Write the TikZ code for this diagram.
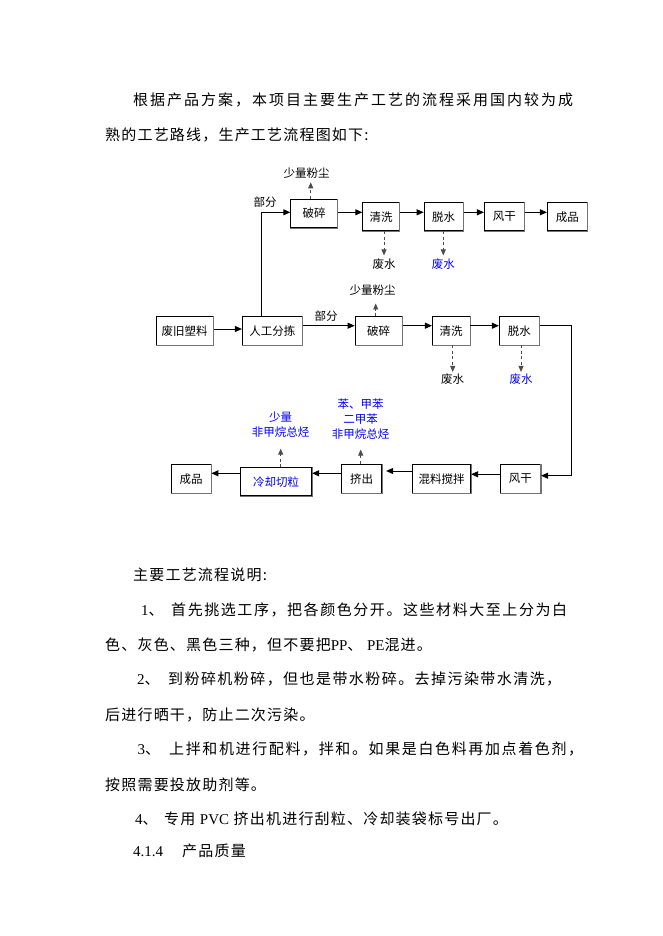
\documentclass[tikz,border=0pt]{standalone}
\usepackage{fontspec}
\usetikzlibrary{arrows.meta,calc}
\newfontfamily\cjk[LetterSpace=8]{Noto Sans CJK SC}
\newfontfamily\dgf{Noto Sans CJK SC}
\newfontfamily\lat{Liberation Serif}
\definecolor{eblue}{RGB}{0,0,255}
\def\spreadch#1{\ifx#1\relax\else#1\hskip0pt plus 6pt\expandafter\spreadch\fi}
\newcommand\jline[2]{\hbox to #1{\spreadch#2\relax\unskip}}
\begin{document}
\begin{tikzpicture}[x=1pt,y=-1pt,
 box/.style={draw=black, line width=0.8pt, inner sep=0pt, fill=white, font=\dgf\fontsize{11.5}{15}\selectfont},
 lab/.style={inner sep=0pt, align=center, font=\dgf\fontsize{11.5}{15.3}\selectfont},
 bt/.style={inner sep=0pt, anchor=base west, font=\cjk\fontsize{15}{18}\selectfont},
 arr/.style={line width=0.9pt, -{Triangle[length=7pt,width=6pt]}},
 dsh/.style={line width=0.9pt, draw=black!70, dash pattern=on 3pt off 2.5pt, -{Triangle[length=6pt,width=5pt]}},
 shadeline/.style={draw=black!55, line width=1.2pt}]
\fill[white] (0,0) rectangle (662,936);
\useasboundingbox (0,0) rectangle (662,936);

% ---------- body text ----------
\node[bt] (l1) at (133,105.5) {\jline{440pt}{根据产品方案，本项目主要生产工艺的流程采用国内较为成}};
\node[bt] (l2) at (105,140.5) {熟的工艺路线，生产工艺流程图如下:};
\node[bt] (l3) at (133,580.5) {主要工艺流程说明:};
\node[bt] (n1) at (141,615.5) {{\lat 1}、};
\node[bt] (l4) at (171,615.5) {\jline{396pt}{首先挑选工序，把各颜色分开。这些材料大至上分为白}};
\node[bt] (l5) at (105,650.5) {色、灰色、黑色三种，但不要把{\lat PP}、 {\lat PE}混进。};
\node[bt] (n2) at (137,684) {{\lat 2}、};
\node[bt] (l6) at (168,684) {\jline{393pt}{到粉碎机粉碎，但也是带水粉碎。去掉污染带水清洗，}};
\node[bt] (l7) at (105,720.5) {后进行晒干，防止二次污染。};
\node[bt] (n3) at (137.5,754) {{\lat 3}、};
\node[bt] (l8) at (169,754) {\jline{414pt}{上拌和机进行配料，拌和。如果是白色料再加点着色剂，}};
\node[bt] (l9) at (105,790) {按照需要投放助剂等。};
\node[bt] (n4) at (135,824.5) {{\lat 4}、};
\node[bt] (l10) at (164,824.5) {专用 {\lat PVC} 挤出机进行刮粒、冷却装袋标号出厂。};
\node[bt] (n5) at (133,856.5) {{\lat 4.1.4}};
\node[bt] (l11) at (182,856.5) {产品质量};

% ---------- row 1 ----------
\node[box, minimum width=46.6pt, minimum height=28.4pt] (p1) at (314,213.5) {破碎};
\node[box, minimum width=36.6pt, minimum height=28pt] (q1) at (381,216.7) {清洗};
\node[box, minimum width=39.3pt, minimum height=28pt] (t1) at (443.7,216.7) {脱水};
\node[box, minimum width=40pt, minimum height=28pt] (f1) at (504.3,216.7) {风干};
\node[box, minimum width=40pt, minimum height=28pt] (c1) at (567.3,216.7) {成品};
% ---------- row 2 ----------
\node[box, minimum width=57.3pt, minimum height=28.3pt] (w) at (184.7,330.8) {废旧塑料};
\node[box, minimum width=60pt, minimum height=28.3pt] (r) at (272.3,330.8) {人工分拣};
\node[box, minimum width=47.3pt, minimum height=28.3pt] (p2) at (378.7,330.8) {破碎};
\node[box, minimum width=37.7pt, minimum height=28.3pt] (q2) at (451.2,330.8) {清洗};
\node[box, minimum width=40pt, minimum height=28.3pt] (t2) at (519.3,330.8) {脱水};
% ---------- row 3 ----------
\node[box, minimum width=40pt, minimum height=29pt] (c2) at (191,478.8) {成品};
\node[box, minimum width=71pt, minimum height=28pt, text=eblue] (k) at (276.2,481.7) {冷却切粒};
\node[box, minimum width=40pt, minimum height=29.3pt] (e) at (361.7,478.7) {挤出};
\node[box, minimum width=58.4pt, minimum height=29.3pt] (m) at (441.5,478.7) {混料搅拌};
\node[box, minimum width=40.7pt, minimum height=29.3pt] (f2) at (520.3,478.7) {风干};

\foreach \n in {p1,q1,t1,f1,c1,w,r,p2,q2,t2,c2,k,e,m,f2}
  \draw[shadeline] (\n.north east) -- (\n.south east) -- (\n.south west);

% ---------- labels ----------
\node[lab] (d1) at (306.7,173.3) {少量粉尘};
\node[lab] (b1) at (265,201.7) {部分};
\node[lab] (ww1) at (384,264) {废水};
\node[lab, text=eblue] (ww2) at (443.3,264) {废水};
\node[lab] (d2) at (372.7,290) {少量粉尘};
\node[lab] (b2) at (326,315.7) {部分};
\node[lab] (ww3) at (452.7,379) {废水};
\node[lab, text=eblue] (ww4) at (521,379) {废水};
\node[lab, text=eblue] (g1) at (280.7,424.5) {少量\\非甲烷总烃};
\node[lab, text=eblue] (g2) at (360.7,419.2) {苯、甲苯\\二甲苯\\非甲烷总烃};

% ---------- helper coordinates ----------
\coordinate (row1) at (0,212.3);
\coordinate (row2a) at (0,329);
\coordinate (row2b) at (0,325.7);
\coordinate (row3a) at (0,474.3);
\coordinate (row3b) at (0,471);
\coordinate (row3c) at (0,473.3);
\coordinate (row3r) at (0,475.7);
\coordinate (vx) at (261.7,0);
\coordinate (cr) at (571,0);
\coordinate (dx1) at (310.7,0);
\coordinate (dx2) at (375.7,0);

% ---------- solid connectors ----------
\draw[arr] (r.north -| vx) |- (p1.west |- row1);
\draw[arr] (p1.east |- row1) -- (q1.west |- row1);
\draw[arr] (q1.east |- row1) -- (t1.west |- row1);
\draw[arr] (t1.east |- row1) -- (f1.west |- row1);
\draw[arr] (f1.east |- row1) -- (c1.west |- row1);
\draw[arr] (w.east |- row2a) -- (r.west |- row2a);
\draw[arr] (r.east |- row2b) -- (p2.west |- row2b);
\draw[arr] (p2.east |- row2b) -- (q2.west |- row2b);
\draw[arr] (q2.east |- row2b) -- (t2.west |- row2b);
\draw[arr] (t2.east |- row2b) -- (cr |- row2b) |- (f2.east |- row3r);
\draw[arr] (f2.west |- row3a) -- (m.east |- row3a);
\draw[arr, shorten >=4pt] (m.west |- row3b) -- (e.east |- row3b);
\draw[arr] (e.west |- row3c) -- (k.east |- row3c);
\draw[arr] (k.west |- row3c) -- (c2.east |- row3c);

% ---------- dashed connectors ----------
\draw[dsh, shorten >=3.5pt] (dx1 |- p1.north) -- (dx1 |- d1.south);
\draw[dsh, shorten >=3pt] (ww1.north |- q1.south) -- (ww1.north);
\draw[dsh, shorten >=3pt] (ww2.north |- t1.south) -- (ww2.north);
\draw[dsh, shorten >=8pt] (dx2 |- p2.north) -- (dx2 |- d2.south);
\draw[dsh, shorten >=1.5pt] (ww3.north |- q2.south) -- (ww3.north);
\draw[dsh, shorten >=1.5pt] (ww4.north |- t2.south) -- (ww4.north);
\draw[dsh, shorten >=11pt] (g1.south |- k.north) -- (g1.south);
\draw[dsh, shorten >=9.5pt] (g2.south |- e.north) -- (g2.south);
\end{tikzpicture}
\end{document}
